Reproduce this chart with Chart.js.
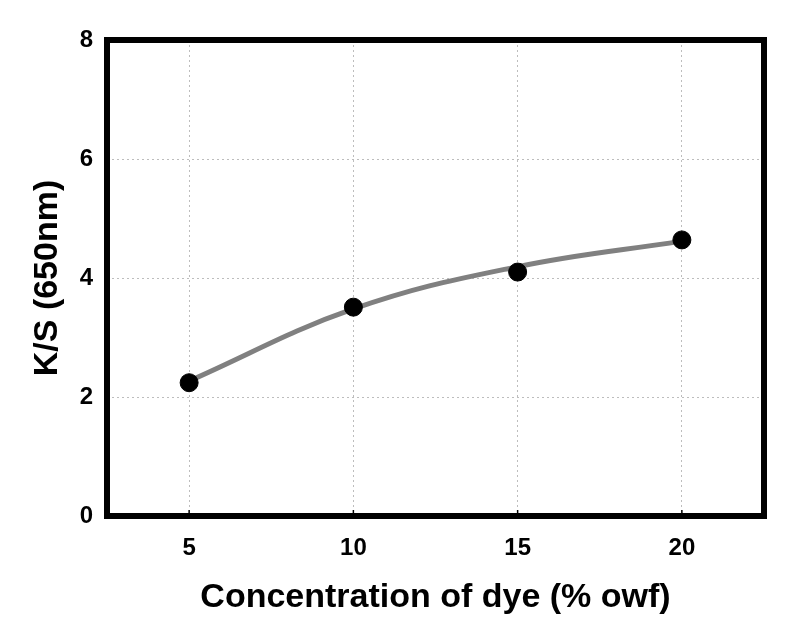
<!DOCTYPE html>
<html>
<head>
<meta charset="utf-8">
<script src="https://cdn.jsdelivr.net/npm/chart.js@4"></script>
<style>
  html, body { margin: 0; padding: 0; background: #fff; }
  #wrap { width: 790px; height: 626px; }
</style>
</head>
<body>
<div id="wrap"><canvas id="chart"></canvas></div>
<script>
// datos
const concentracion = [5, 10, 15, 20];          // % owf
const ksMedido = [2.24, 3.51, 4.10, 4.64];      // puntos negros
const ksAjuste = [2.27, 3.48, 4.19, 4.62];      // curva gris (ajuste)
const ticksY = [0, 2, 4, 6, 8];
const ticksX = [5, 10, 15, 20];

const fuente = 'Liberation Sans, Arial, sans-serif';

/* marco negro grueso alrededor del area del grafico */
const marco = {
    id: 'marco',
    afterDatasetsDraw(chart) {
        const {ctx, chartArea: a, scales: {x}} = chart;
        ctx.save();
        ctx.strokeStyle = '#000';
        ctx.lineWidth = 1.5;
        // marcas pequeñas hacia adentro en el eje x
        ticksX.forEach(v => {
            const px = x.getPixelForValue(v);
            ctx.beginPath();
            ctx.moveTo(px, a.bottom);
            ctx.lineTo(px, a.bottom - 6);
            ctx.stroke();
        });
        ctx.lineWidth = 6;
        ctx.strokeRect(a.left, a.top, a.right - a.left, a.bottom - a.top);
        ctx.restore();
    }
};

const ctx = document.querySelector('#chart').getContext('2d');

new Chart(ctx, {
    type: 'scatter',
    data: {
        datasets: [
            {
                label: 'Ajuste',
                data: concentracion.map((c, i) => ({x: c, y: ksAjuste[i]})),
                showLine: true,
                borderColor: '#808080',
                borderWidth: 5,
                tension: 0.4,
                pointRadius: 0,
                order: 2
            },
            {
                label: 'K/S',
                data: concentracion.map((c, i) => ({x: c, y: ksMedido[i]})),
                backgroundColor: '#000',
                borderColor: '#000',
                pointRadius: 9,
                pointHoverRadius: 9,
                order: 1
            }
        ]
    },
    options: {
        responsive: true,
        maintainAspectRatio: false,
        animation: false,
        layout: { padding: { left: 0, right: 26, top: 40, bottom: 0 } },
        plugins: {
            legend: { display: false },
            tooltip: { enabled: false }
        },
        scales: {
            x: {
                type: 'linear',
                min: 2.5,
                max: 22.5,
                afterBuildTicks: s => { s.ticks = ticksX.map(v => ({value: v})); },
                afterFit: s => { s.height = 110; },
                grid: { color: '#bdbdbd', drawTicks: false, tickLength: 0 },
                border: { display: false, dash: [2, 3] },
                ticks: {
                    color: '#000',
                    padding: 18,
                    font: { family: fuente, size: 24, weight: 'bold' }
                },
                title: {
                    display: true,
                    text: 'Concentration of dye (% owf)',
                    color: '#000',
                    padding: { top: 0, bottom: 8 },
                    font: { family: fuente, size: 34, weight: 'bold' }
                }
            },
            y: {
                min: 0,
                max: 8,
                afterBuildTicks: s => { s.ticks = ticksY.map(v => ({value: v})); },
                afterFit: s => { s.width = 107; },
                grid: { color: '#bdbdbd', drawTicks: false, tickLength: 0 },
                border: { display: false, dash: [2, 3] },
                ticks: {
                    color: '#000',
                    padding: 14,
                    font: { family: fuente, size: 24, weight: 'bold' }
                },
                title: {
                    display: true,
                    text: 'K/S (650nm)',
                    color: '#000',
                    padding: { top: 27, bottom: 0 },
                    font: { family: fuente, size: 34, weight: 'bold' }
                }
            }
        }
    },
    plugins: [marco]
});
</script>
</body>
</html>
